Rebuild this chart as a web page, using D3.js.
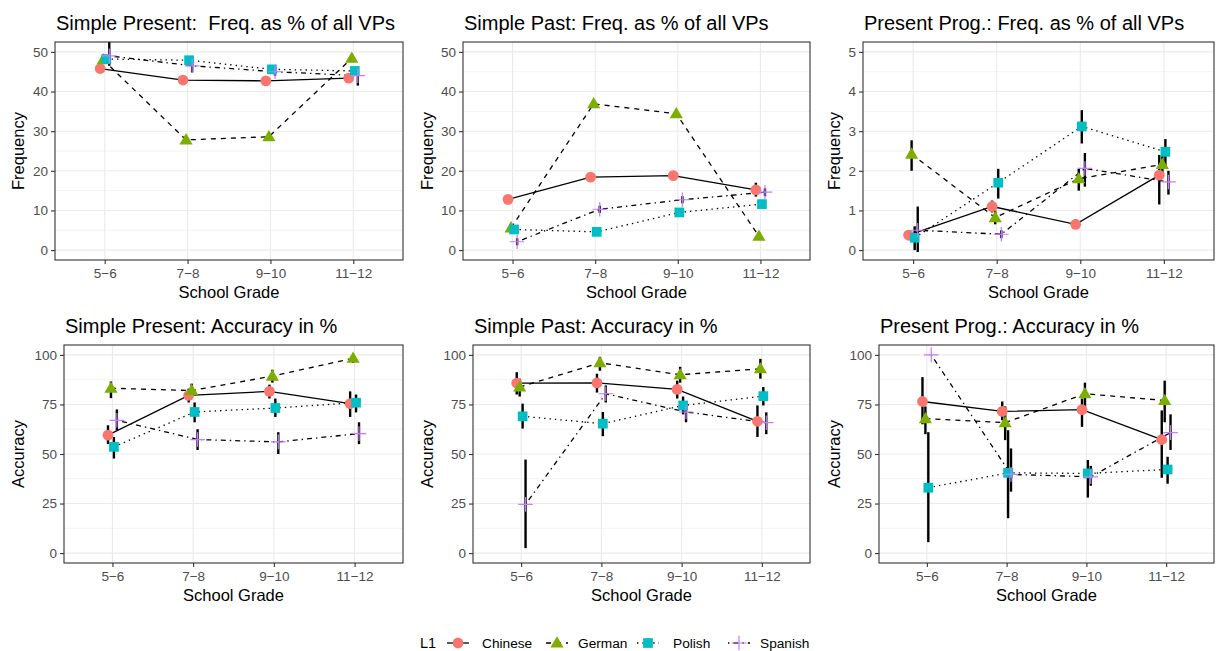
<!DOCTYPE html>
<html>
<head>
<meta charset="utf-8">
<script src="https://cdn.jsdelivr.net/npm/d3@7"></script>
<style>
  body { margin: 0; background: #fff; }
  text { font-family: "Liberation Sans", Arial, sans-serif; }
</style>
</head>
<body>
<div id="chart"></div>
<script>
// categories
const grades = ["5\u22126", "7\u22128", "9\u221210", "11\u221212"];
const groups = ["Chinese", "German", "Polish", "Spanish"];
const colors = ["#F8766D", "#7CAE00", "#00BFC4", "#C77CFF"];

// Simple Present, frequency (rows: Chinese, German, Polish, Spanish)
const spFreqMean = [[45.8, 42.9, 42.7, 43.4], [48.0, 27.8, 28.6, 48.4], [48.2, 47.9, 45.6, 45.2], [49.0, 46.5, 45.0, 44.0]];
const spFreqLo   = [[45.0, 42.2, 42.0, 42.6], [47.0, 27.0, 27.8, 47.4], [47.4, 47.2, 44.8, 44.4], [46.5, 44.8, 44.0, 41.5]];
const spFreqHi   = [[46.6, 43.6, 43.4, 44.2], [49.0, 28.6, 29.4, 49.4], [49.0, 48.6, 46.4, 46.0], [53.0, 48.2, 46.0, 46.2]];

// Simple Past, frequency
const pastFreqMean = [[12.8, 18.4, 18.8, 15.2], [5.6, 36.9, 34.4, 3.5], [5.2, 4.6, 9.5, 11.6], [2.1, 10.3, 12.7, 14.6]];
const pastFreqLo   = [[12.0, 17.6, 18.0, 13.5], [4.6, 36.0, 33.5, 2.6], [4.4, 3.8, 8.7, 10.8], [1.2, 9.4, 11.8, 13.6]];
const pastFreqHi   = [[13.8, 19.2, 19.6, 17.0], [6.6, 37.8, 35.3, 4.4], [6.0, 5.4, 10.3, 12.4], [3.0, 11.2, 13.6, 15.6]];

// Present Progressive, frequency
const progFreqMean = [[0.38, 1.10, 0.65, 1.89], [2.42, 0.82, 1.80, 2.16], [0.31, 1.70, 3.12, 2.48], [0.50, 0.40, 2.06, 1.72]];
const progFreqLo   = [[0.25, 0.95, 0.55, 1.15], [2.00, 0.65, 1.50, 1.85], [0.00, 1.30, 2.69, 2.10], [-0.05, 0.30, 1.60, 1.40]];
const progFreqHi   = [[0.50, 1.25, 0.78, 2.40], [2.77, 1.00, 2.05, 2.45], [0.60, 2.05, 3.53, 2.80], [1.10, 0.50, 2.45, 2.00]];

// Simple Present, accuracy
const spAccMean = [[59.5, 79.6, 81.6, 75.4], [83.2, 82.0, 89.3, 98.3], [53.6, 71.2, 73.2, 75.9], [67.0, 57.3, 56.1, 60.3]];
const spAccLo   = [[55.0, 76.0, 78.0, 68.7], [78.2, 78.5, 86.0, 96.0], [47.7, 66.0, 68.7, 71.0], [62.0, 52.0, 50.0, 55.0]];
const spAccHi   = [[64.5, 83.0, 85.0, 81.6], [86.6, 85.5, 92.5, 100.0], [58.6, 76.0, 78.0, 80.0], [72.5, 62.5, 61.0, 66.0]];

// Simple Past, accuracy
const pastAccMean = [[85.8, 85.9, 82.6, 66.5], [83.8, 96.0, 90.0, 93.0], [69.0, 65.3, 74.5, 79.2], [24.6, 80.4, 71.2, 65.8]];
const pastAccLo   = [[80.0, 81.0, 78.0, 58.6], [79.0, 92.0, 86.0, 88.0], [62.8, 59.0, 70.0, 74.5], [2.5, 76.0, 66.0, 60.0]];
const pastAccHi   = [[91.3, 90.5, 87.0, 74.5], [88.0, 99.0, 94.0, 98.0], [75.4, 71.2, 79.0, 83.8], [47.2, 84.6, 75.0, 71.0]];

// Present Progressive, accuracy
const progAccMean = [[76.5, 71.5, 72.4, 57.3], [67.8, 65.8, 80.4, 77.0], [33.0, 40.5, 40.2, 42.2], [100.0, 39.7, 38.5, 60.8]];
const progAccLo   = [[65.0, 67.0, 63.7, 38.0], [60.0, 57.0, 74.0, 66.0], [5.5, 17.6, 28.0, 35.0], [100.0, 31.0, 34.0, 52.0]];
const progAccHi   = [[88.8, 76.5, 78.0, 72.0], [74.0, 74.0, 86.0, 87.0], [61.0, 62.0, 47.0, 48.6], [100.0, 52.8, 44.0, 70.0]];

const freqTicks = [0, 10, 20, 30, 40, 50];
const progFreqTicks = [0, 1, 2, 3, 4, 5];
const accTicks = [0, 25, 50, 75, 100];

const width = 1216, height = 651;
const dashes = [null, "5,5", "1.4,4", "1.4,4,5,4"];

const panels = [
  {title: "Simple Present:  Freq. as % of all VPs", ylab: "Frequency", mean: spFreqMean, lo: spFreqLo, hi: spFreqHi, ticks: freqTicks, box: [55, 403, 42, 260], ytx: 18},
  {title: "Simple Past: Freq. as % of all VPs", ylab: "Frequency", mean: pastFreqMean, lo: pastFreqLo, hi: pastFreqHi, ticks: freqTicks, box: [463, 810, 42, 260], ytx: 427},
  {title: "Present Prog.: Freq. as % of all VPs", ylab: "Frequency", mean: progFreqMean, lo: progFreqLo, hi: progFreqHi, ticks: progFreqTicks, box: [863, 1214, 42, 260], ytx: 834},
  {title: "Simple Present: Accuracy in %", ylab: "Accuracy", mean: spAccMean, lo: spAccLo, hi: spAccHi, ticks: accTicks, box: [64, 403, 345, 563], ytx: 18},
  {title: "Simple Past: Accuracy in %", ylab: "Accuracy", mean: pastAccMean, lo: pastAccLo, hi: pastAccHi, ticks: accTicks, box: [473, 810, 345, 563], ytx: 427},
  {title: "Present Prog.: Accuracy in %", ylab: "Accuracy", mean: progAccMean, lo: progAccLo, hi: progAccHi, ticks: accTicks, box: [879, 1214, 345, 563], ytx: 834}
];

const svg = d3.select("#chart").append("svg")
    .attr("width", width)
    .attr("height", height);

svg.append("rect").attr("width", width).attr("height", height).attr("fill", "#fff");

function drawShape(sel, gi, size) {
  let r = size;
  if (gi === 0) {
    sel.append("circle").attr("r", r).attr("fill", colors[0]);
  } else if (gi === 1) {
    let h = r * 2.1;
    sel.append("path")
      .attr("d", `M0,${-h * 0.6}L${h * 0.58},${h * 0.4}L${-h * 0.58},${h * 0.4}Z`)
      .attr("fill", colors[1]);
  } else if (gi === 2) {
    sel.append("rect").attr("x", -r * 0.9).attr("y", -r * 0.9)
      .attr("width", r * 1.8).attr("height", r * 1.8).attr("fill", colors[2]);
  } else {
    sel.append("path")
      .attr("d", `M${-r * 1.35},0H${r * 1.35}M0,${-r * 1.35}V${r * 1.35}`)
      .attr("stroke", colors[3]).attr("stroke-width", 1.2).attr("fill", "none");
  }
}

panels.forEach((p, pi) => {
  let [left, right, top, bottom] = p.box;
  let tmin = d3.min(p.ticks), tmax = d3.max(p.ticks);
  let span = tmax - tmin;

  let x = d3.scalePoint().domain(grades).range([left, right]).padding(0.6);
  let dodge = d3.scalePoint().domain(groups).range([-0.055, 0.055]);
  let y = d3.scaleLinear().domain([tmin - 0.05 * span, tmax + 0.05 * span]).range([bottom, top]);
  let px = (g, grp) => x(g) + dodge(grp) * x.step();

  let g = svg.append("g");

  // grid
  let step = p.ticks[1] - p.ticks[0];
  let minor = p.ticks.slice(0, -1).map(t => t + step / 2);
  g.selectAll(".minor").data(minor).enter().append("line")
    .attr("x1", left).attr("x2", right)
    .attr("y1", d => y(d)).attr("y2", d => y(d))
    .attr("stroke", "#EBEBEB").attr("stroke-width", 0.6);
  g.selectAll(".majorY").data(p.ticks).enter().append("line")
    .attr("x1", left).attr("x2", right)
    .attr("y1", d => y(d)).attr("y2", d => y(d))
    .attr("stroke", "#EBEBEB").attr("stroke-width", 1.1);
  g.selectAll(".majorX").data(grades).enter().append("line")
    .attr("x1", d => x(d)).attr("x2", d => x(d))
    .attr("y1", top).attr("y2", bottom)
    .attr("stroke", "#EBEBEB").attr("stroke-width", 1.1);

  // clip
  svg.append("clipPath").attr("id", "clip" + pi)
    .append("rect").attr("x", left).attr("y", top)
    .attr("width", right - left).attr("height", bottom - top);
  let plot = g.append("g").attr("clip-path", `url(#clip${pi})`);

  // lines
  let line = d3.line().x(d => d[0]).y(d => d[1]);
  groups.forEach((grp, gi) => {
    let pts = grades.map((gr, i) => [px(gr, grp), y(p.mean[gi][i])]);
    plot.append("path")
      .attr("d", line(pts))
      .attr("fill", "none")
      .attr("stroke", "#000")
      .attr("stroke-width", 1.3)
      .attr("stroke-dasharray", dashes[gi]);
  });

  // error bars
  groups.forEach((grp, gi) => {
    plot.selectAll(".err" + gi).data(grades).enter().append("line")
      .attr("x1", (d) => px(d, grp)).attr("x2", (d) => px(d, grp))
      .attr("y1", (d, i) => y(p.lo[gi][i])).attr("y2", (d, i) => y(p.hi[gi][i]))
      .attr("stroke", "#000").attr("stroke-width", 2.4);
  });

  // points
  groups.forEach((grp, gi) => {
    grades.forEach((gr, i) => {
      let s = plot.append("g").attr("transform", `translate(${px(gr, grp)},${y(p.mean[gi][i])})`);
      drawShape(s, gi, 5.4);
    });
  });

  // border
  g.append("rect").attr("x", left).attr("y", top)
    .attr("width", right - left).attr("height", bottom - top)
    .attr("fill", "none").attr("stroke", "#333333").attr("stroke-width", 1.1);

  // axes
  let yAxis = g.append("g").attr("transform", `translate(${left},0)`)
    .call(d3.axisLeft(y).tickValues(p.ticks).tickFormat(d3.format("d")).tickSize(4).tickPadding(3));
  let xAxis = g.append("g").attr("transform", `translate(0,${bottom})`)
    .call(d3.axisBottom(x).tickSize(4).tickPadding(4));
  [yAxis, xAxis].forEach(a => {
    a.select(".domain").remove();
    a.selectAll(".tick line").attr("stroke", "#333333").attr("stroke-width", 1.1);
    a.selectAll(".tick text").attr("fill", "#4D4D4D")
      .style("font-family", "'Liberation Sans', Arial, sans-serif").style("font-size", "13.5px");
  });

  // titles
  g.append("text").attr("x", left + 1).attr("y", top - 12.5)
    .attr("fill", "#000").style("font-size", "20px")
    .style("white-space", "pre").attr("xml:space", "preserve")
    .text(p.title);
  g.append("text").attr("x", (left + right) / 2).attr("y", bottom + 38)
    .attr("text-anchor", "middle").style("font-size", "16.5px").attr("fill", "#000")
    .text("School Grade");
  g.append("text")
    .attr("transform", `translate(${p.ytx},${(top + bottom) / 2}) rotate(-90)`)
    .attr("dy", "0.35em")
    .attr("text-anchor", "middle").style("font-size", "16.5px").attr("fill", "#000")
    .text(p.ylab);
});

// legend
let legend = svg.append("g").attr("transform", "translate(0,643)");
legend.append("text").attr("x", 420).attr("dy", "0.35em").style("font-size", "14.5px").text("L1");
let keyX = [447, 546, 637, 728];
let labelX = [482, 578, 673, 760];
groups.forEach((grp, gi) => {
  let k = legend.append("g").attr("transform", `translate(${keyX[gi]},0)`);
  k.append("line").attr("x1", 0).attr("x2", 22).attr("y1", 0).attr("y2", 0)
    .attr("stroke", "#000").attr("stroke-width", 1.3).attr("stroke-dasharray", dashes[gi]);
  let s = k.append("g").attr("transform", "translate(11,0)");
  drawShape(s, gi, 5.4);
  legend.append("text").attr("x", labelX[gi]).attr("dy", "0.35em")
    .style("font-size", "13.7px").attr("fill", "#000").text(grp);
});
</script>
</body>
</html>
